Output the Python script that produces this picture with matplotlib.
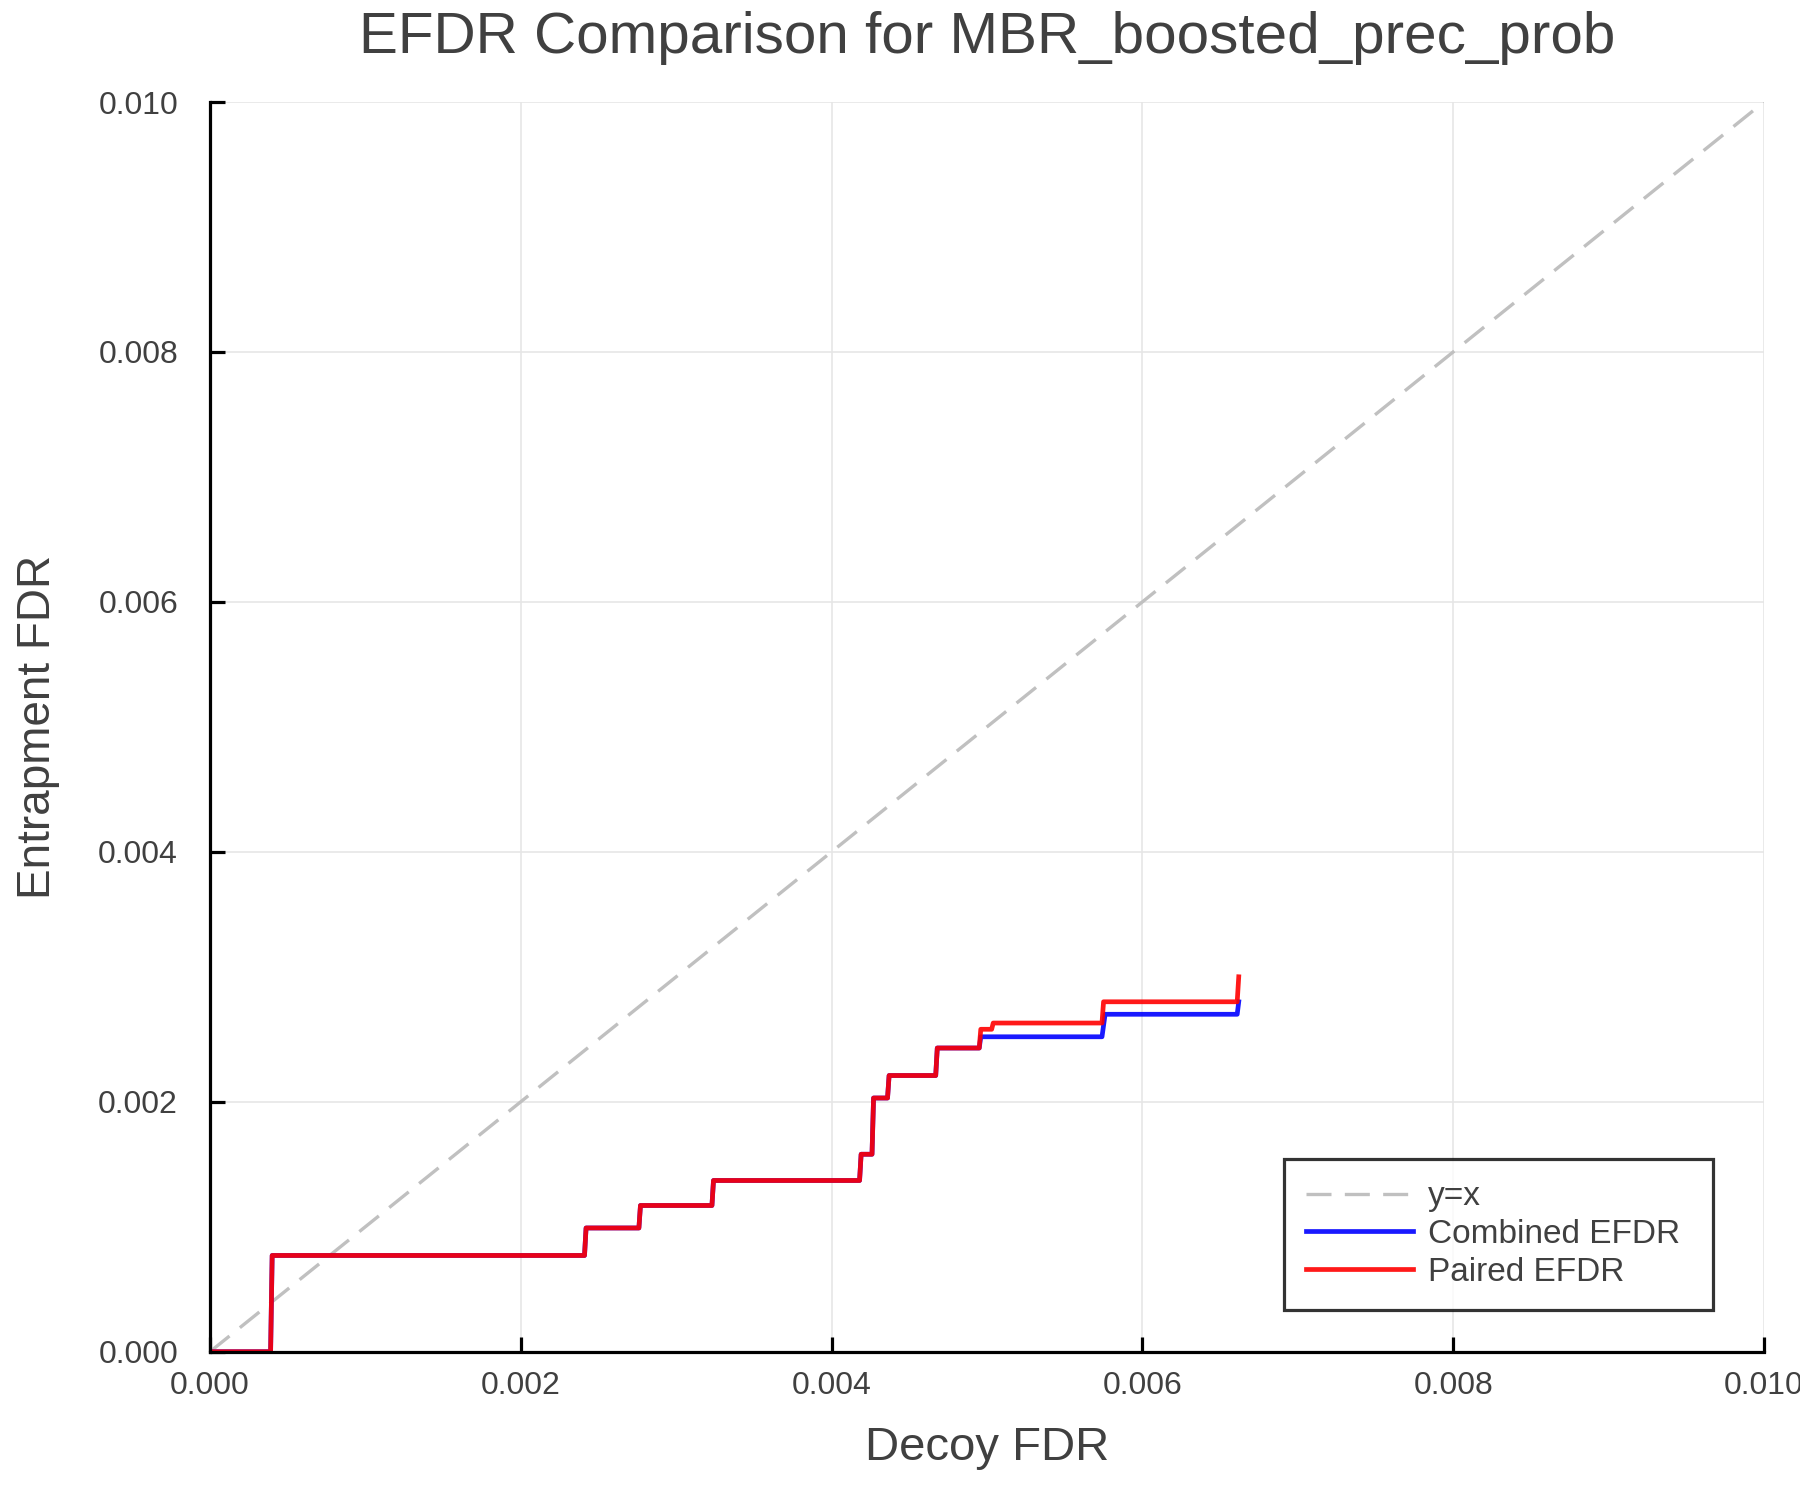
import matplotlib
matplotlib.use("Agg")
import matplotlib.pyplot as plt

plt.rcParams['font.family'] = ['Liberation Sans', 'DejaVu Sans']

# step curve vertices
comb_x = [0.0, 0.00039, 0.00040, 0.00241, 0.00242, 0.00276, 0.00277, 0.00323, 0.00324,
          0.00418, 0.00419, 0.00426, 0.00427, 0.00436, 0.00437, 0.00467, 0.00468,
          0.00495, 0.00496, 0.00574, 0.00576, 0.00661, 0.00662]
comb_y = [0.0, 0.0, 0.00077, 0.00077, 0.00099, 0.00099, 0.00117, 0.00117, 0.00137,
          0.00137, 0.00158, 0.00158, 0.00203, 0.00203, 0.00221, 0.00221, 0.00243,
          0.00243, 0.00252, 0.00252, 0.00270, 0.00270, 0.00280]

pair_x = [0.0, 0.00039, 0.00040, 0.00241, 0.00242, 0.00276, 0.00277, 0.00323, 0.00324,
          0.00418, 0.00419, 0.00426, 0.00427, 0.00436, 0.00437, 0.00467, 0.00468,
          0.00495, 0.00496, 0.00503, 0.00504, 0.00574, 0.00575, 0.00661, 0.00662]
pair_y = [0.0, 0.0, 0.00077, 0.00077, 0.00099, 0.00099, 0.00117, 0.00117, 0.00137,
          0.00137, 0.00158, 0.00158, 0.00203, 0.00203, 0.00221, 0.00221, 0.00243,
          0.00243, 0.00258, 0.00258, 0.00263, 0.00263, 0.00280, 0.00280, 0.00300]

ticks = [0.0, 0.002, 0.004, 0.006, 0.008, 0.010]
tick_labels = ["0.000", "0.002", "0.004", "0.006", "0.008", "0.010"]

txt = "#404040"

fig = plt.figure(figsize=(18, 15), dpi=100)
ax = fig.add_axes([210 / 1800, 1 - 1351.7 / 1500, 1554 / 1800, 1249.7 / 1500])

ax.plot([0, 0.01], [0, 0.01], color="#c0c0c0", lw=2.4, dashes=(7.5, 4), label="y=x")
ax.plot(comb_x, comb_y, color="blue", alpha=0.9, lw=3.4, label="Combined EFDR")
ax.plot(pair_x, pair_y, color="red", alpha=0.9, lw=3.4, label="Paired EFDR")

ax.set_xlim(0, 0.01)
ax.set_ylim(0, 0.01)
ax.set_xticks(ticks)
ax.set_xticklabels(tick_labels)
ax.set_yticks(ticks)
ax.set_yticklabels(tick_labels)
ax.grid(True, color="#e6e6e6", lw=1.2)
ax.set_axisbelow(True)

for s in ["top", "right"]:
    ax.spines[s].set_visible(False)
for s in ["left", "bottom"]:
    ax.spines[s].set_linewidth(2.3)
    ax.spines[s].set_color("black")
ax.tick_params(direction="in", length=11, width=2.3, colors="black",
               labelcolor=txt, labelsize=23)
ax.tick_params(axis="x", pad=14)
ax.tick_params(axis="y", pad=23)

ax.set_title("EFDR Comparison for MBR_boosted_prec_prob", fontsize=42, color=txt, pad=35)
ax.set_xlabel("Decoy FDR", fontsize=34, color=txt)
ax.xaxis.set_label_coords(0.5, -0.0867)
ax.xaxis.label.set_va("baseline")
ax.set_ylabel("Entrapment FDR", fontsize=33, color=txt)
ax.yaxis.set_label_coords(-0.111, 0.5)
ax.yaxis.label.set_va("center")

leg = ax.legend(loc="lower left", bbox_to_anchor=(0.691, 0.033, 0.276, 0.122), mode="expand",
                fontsize=24, frameon=True, fancybox=False, handlelength=3.2,
                labelspacing=0.2, borderpad=0.68, handletextpad=0.45, borderaxespad=0)
leg.get_frame().set_edgecolor("black")
leg.get_frame().set_linewidth(2.3)
for t in leg.get_texts():
    t.set_color(txt)

fig.savefig("out.png", dpi=100, facecolor="white")
